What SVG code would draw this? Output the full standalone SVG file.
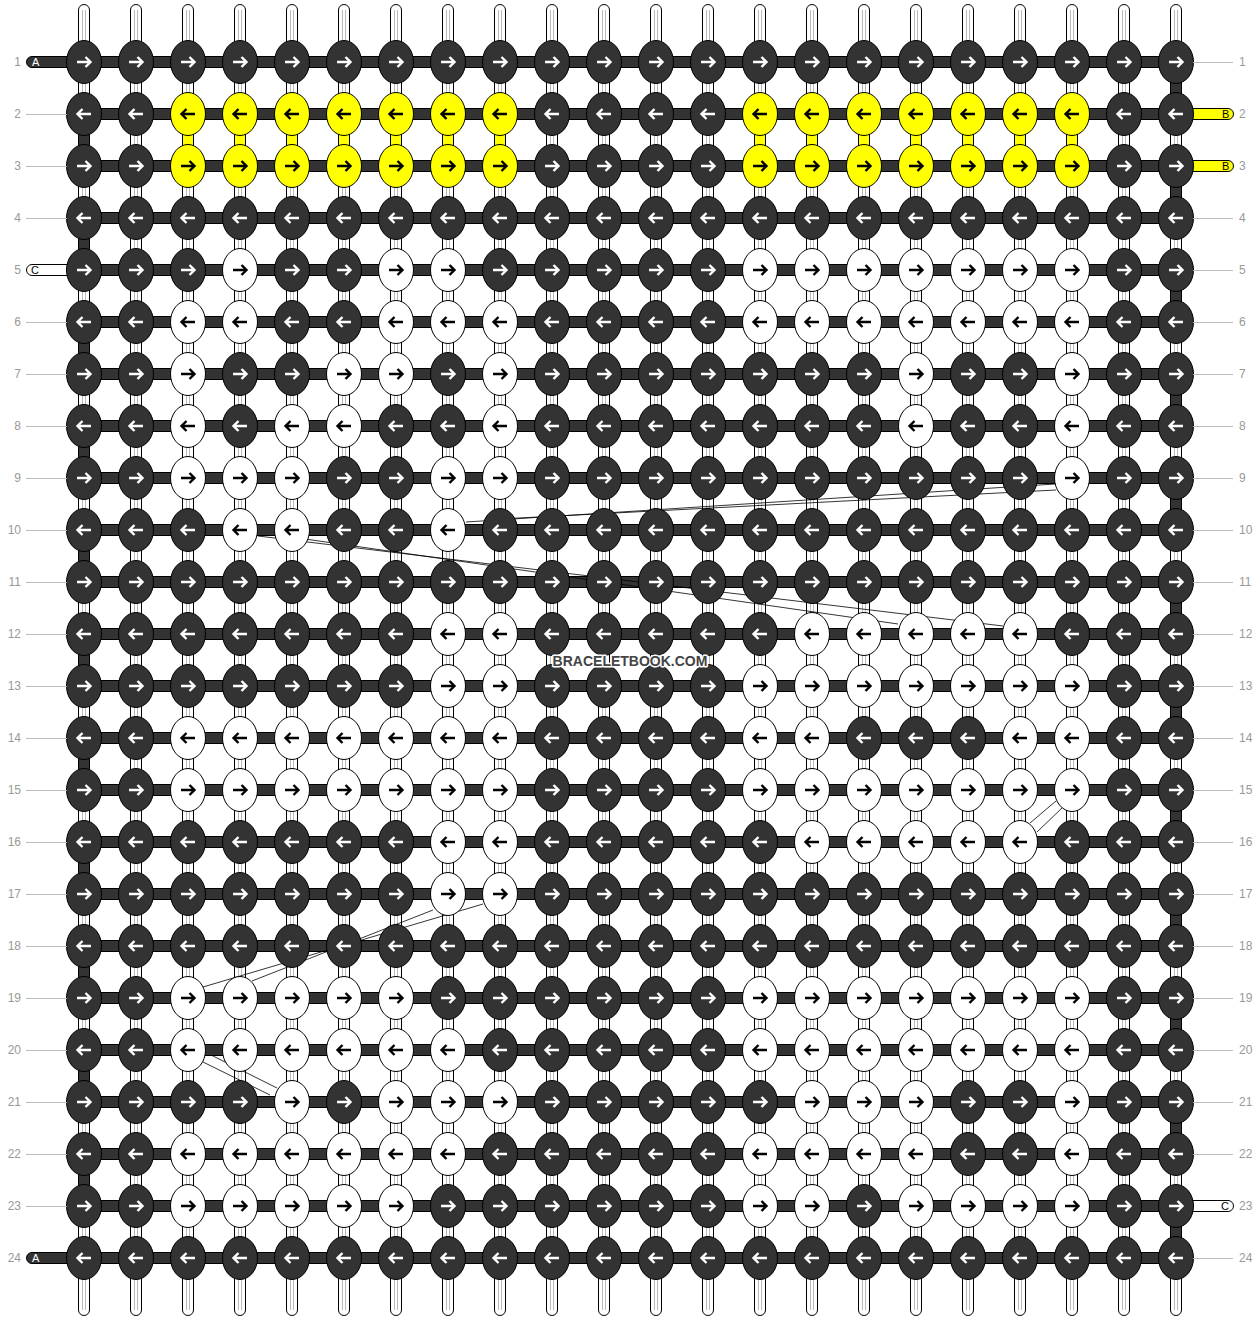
<svg xmlns="http://www.w3.org/2000/svg" width="1260" height="1320" viewBox="0 0 1260 1320">
<style>
.vs{fill:#fff;stroke:#000;stroke-width:1}
.vl{stroke:#bbb;stroke-width:1;fill:none}
.hb{fill:#333;stroke:#000;stroke-width:1}
.ys{fill:#ff0;stroke:#000;stroke-width:1}
.kd{fill:#333;stroke:#000;stroke-width:1}
.kw{fill:#fff;stroke:#000;stroke-width:1}
.ky{fill:#ff0;stroke:#000;stroke-width:1}
.aw{fill:none;stroke:#fff;stroke-width:2.4}
.ab{fill:none;stroke:#000;stroke-width:2.4}
.num{font-family:"Liberation Sans",Arial,sans-serif;font-size:12px;fill:#999}
.ll{stroke:#bbb;stroke-width:1;fill:none}
.dg{stroke:#000;stroke-width:0.8;fill:none}
.lt{font-family:"Liberation Sans",Arial,sans-serif;font-size:11px}
</style>
<defs>
<g id="vstr"><rect class="vs" x="-5.5" y="4.5" width="11" height="1311" rx="5.5"/><path class="vl" d="M-1.5,10V1310M1.5,10V1310"/></g>
<path id="ar" d="M-7,0H6.5M1.5,-5L6.5,0L1.5,5"/>
<path id="al" d="M7,0H-6.5M-1.5,-5L-6.5,0L-1.5,5"/>
<g id="dR"><ellipse class="kd" rx="17.5" ry="21.5"/><use href="#ar" class="aw"/></g>
<g id="dL"><ellipse class="kd" rx="17.5" ry="21.5"/><use href="#al" class="aw"/></g>
<g id="wR"><ellipse class="kw" rx="17.5" ry="21.5"/><use href="#ar" class="ab"/></g>
<g id="wL"><ellipse class="kw" rx="17.5" ry="21.5"/><use href="#al" class="ab"/></g>
<g id="yR"><ellipse class="ky" rx="17.5" ry="21.5"/><use href="#ar" class="ab"/></g>
<g id="yL"><ellipse class="ky" rx="17.5" ry="21.5"/><use href="#al" class="ab"/></g>
</defs>
<rect width="1260" height="1320" fill="#fff"/>
<g id="strings">
<use href="#vstr" x="84"/><use href="#vstr" x="136"/><use href="#vstr" x="188"/><use href="#vstr" x="240"/><use href="#vstr" x="292"/><use href="#vstr" x="344"/><use href="#vstr" x="396"/><use href="#vstr" x="448"/><use href="#vstr" x="500"/><use href="#vstr" x="552"/><use href="#vstr" x="604"/><use href="#vstr" x="656"/><use href="#vstr" x="708"/><use href="#vstr" x="760"/><use href="#vstr" x="812"/><use href="#vstr" x="864"/><use href="#vstr" x="916"/><use href="#vstr" x="968"/><use href="#vstr" x="1020"/><use href="#vstr" x="1072"/><use href="#vstr" x="1124"/><use href="#vstr" x="1176"/>
</g>
<g id="turns">
<rect class="hb" x="78.5" y="114" width="11" height="52"/><rect class="hb" x="78.5" y="218" width="11" height="52"/><rect class="hb" x="78.5" y="322" width="11" height="52"/><rect class="hb" x="78.5" y="426" width="11" height="52"/><rect class="hb" x="78.5" y="530" width="11" height="52"/><rect class="hb" x="78.5" y="634" width="11" height="52"/><rect class="hb" x="78.5" y="738" width="11" height="52"/><rect class="hb" x="78.5" y="842" width="11" height="52"/><rect class="hb" x="78.5" y="946" width="11" height="52"/><rect class="hb" x="78.5" y="1050" width="11" height="52"/><rect class="hb" x="78.5" y="1154" width="11" height="52"/>
<rect class="hb" x="1170.5" y="62" width="11" height="52"/><rect class="hb" x="1170.5" y="166" width="11" height="52"/><rect class="hb" x="1170.5" y="270" width="11" height="52"/><rect class="hb" x="1170.5" y="374" width="11" height="52"/><rect class="hb" x="1170.5" y="478" width="11" height="52"/><rect class="hb" x="1170.5" y="582" width="11" height="52"/><rect class="hb" x="1170.5" y="686" width="11" height="52"/><rect class="hb" x="1170.5" y="790" width="11" height="52"/><rect class="hb" x="1170.5" y="894" width="11" height="52"/><rect class="hb" x="1170.5" y="998" width="11" height="52"/><rect class="hb" x="1170.5" y="1102" width="11" height="52"/><rect class="hb" x="1170.5" y="1206" width="11" height="52"/>
<rect class="ys" x="182.5" y="114" width="11" height="52"/><rect class="ys" x="234.5" y="114" width="11" height="52"/><rect class="ys" x="286.5" y="114" width="11" height="52"/><rect class="ys" x="338.5" y="114" width="11" height="52"/><rect class="ys" x="390.5" y="114" width="11" height="52"/><rect class="ys" x="442.5" y="114" width="11" height="52"/><rect class="ys" x="494.5" y="114" width="11" height="52"/>
<rect class="ys" x="754.5" y="114" width="11" height="52"/><rect class="ys" x="806.5" y="114" width="11" height="52"/><rect class="ys" x="858.5" y="114" width="11" height="52"/><rect class="ys" x="910.5" y="114" width="11" height="52"/><rect class="ys" x="962.5" y="114" width="11" height="52"/><rect class="ys" x="1014.5" y="114" width="11" height="52"/><rect class="ys" x="1066.5" y="114" width="11" height="52"/>
</g>
<g id="rows-bars">
<rect class="hb" x="84" y="56.5" width="1092" height="11"/><rect class="hb" x="84" y="108.5" width="1092" height="11"/><rect class="hb" x="84" y="160.5" width="1092" height="11"/><rect class="hb" x="84" y="212.5" width="1092" height="11"/><rect class="hb" x="84" y="264.5" width="1092" height="11"/><rect class="hb" x="84" y="316.5" width="1092" height="11"/><rect class="hb" x="84" y="368.5" width="1092" height="11"/><rect class="hb" x="84" y="420.5" width="1092" height="11"/><rect class="hb" x="84" y="472.5" width="1092" height="11"/><rect class="hb" x="84" y="524.5" width="1092" height="11"/><rect class="hb" x="84" y="576.5" width="1092" height="11"/><rect class="hb" x="84" y="628.5" width="1092" height="11"/><rect class="hb" x="84" y="680.5" width="1092" height="11"/><rect class="hb" x="84" y="732.5" width="1092" height="11"/><rect class="hb" x="84" y="784.5" width="1092" height="11"/><rect class="hb" x="84" y="836.5" width="1092" height="11"/><rect class="hb" x="84" y="888.5" width="1092" height="11"/><rect class="hb" x="84" y="940.5" width="1092" height="11"/><rect class="hb" x="84" y="992.5" width="1092" height="11"/><rect class="hb" x="84" y="1044.5" width="1092" height="11"/><rect class="hb" x="84" y="1096.5" width="1092" height="11"/><rect class="hb" x="84" y="1148.5" width="1092" height="11"/><rect class="hb" x="84" y="1200.5" width="1092" height="11"/><rect class="hb" x="84" y="1252.5" width="1092" height="11"/>
</g>
<g id="ends">
<rect class="hb" x="26.5" y="56.5" width="60" height="11" rx="5.5"/><text class="lt" x="32" y="66" fill="#fff">A</text>
<rect class="hb" x="26.5" y="1252.5" width="60" height="11" rx="5.5"/><text class="lt" x="32" y="1262" fill="#fff">A</text>
<rect class="vs" x="26.5" y="264.5" width="60" height="11" rx="5.5"/><text class="lt" x="31" y="274" fill="#000">C</text>
<rect class="ys" x="1173.5" y="108.5" width="60" height="11" rx="5.5"/><text class="lt" x="1222" y="118" fill="#000">B</text>
<rect class="ys" x="1173.5" y="160.5" width="60" height="11" rx="5.5"/><text class="lt" x="1222" y="170" fill="#000">B</text>
<rect class="vs" x="1173.5" y="1200.5" width="60" height="11" rx="5.5"/><text class="lt" x="1221" y="1210" fill="#000">C</text>
</g>
<g id="connectors">
<path class="dg" d="M466,522L1055,484M500,519L1056,490"/>
<path class="dg" d="M258,536L1003,626M305,539L898,624"/>
<path class="dg" d="M203,987L483,904M252,981L433,910"/>
<path class="dg" d="M203,1062L270,1095M211,1055L277,1088"/>
<path class="dg" d="M1030,823L1056,801M1037,832L1062,808"/>
</g>
<g id="knots">
<g id="row1" transform="translate(0,62)"><use href="#dR" x="84"/><use href="#dR" x="136"/><use href="#dR" x="188"/><use href="#dR" x="240"/><use href="#dR" x="292"/><use href="#dR" x="344"/><use href="#dR" x="396"/><use href="#dR" x="448"/><use href="#dR" x="500"/><use href="#dR" x="552"/><use href="#dR" x="604"/><use href="#dR" x="656"/><use href="#dR" x="708"/><use href="#dR" x="760"/><use href="#dR" x="812"/><use href="#dR" x="864"/><use href="#dR" x="916"/><use href="#dR" x="968"/><use href="#dR" x="1020"/><use href="#dR" x="1072"/><use href="#dR" x="1124"/><use href="#dR" x="1176"/></g>
<g id="row2" transform="translate(0,114)"><use href="#dL" x="84"/><use href="#dL" x="136"/><use href="#yL" x="188"/><use href="#yL" x="240"/><use href="#yL" x="292"/><use href="#yL" x="344"/><use href="#yL" x="396"/><use href="#yL" x="448"/><use href="#yL" x="500"/><use href="#dL" x="552"/><use href="#dL" x="604"/><use href="#dL" x="656"/><use href="#dL" x="708"/><use href="#yL" x="760"/><use href="#yL" x="812"/><use href="#yL" x="864"/><use href="#yL" x="916"/><use href="#yL" x="968"/><use href="#yL" x="1020"/><use href="#yL" x="1072"/><use href="#dL" x="1124"/><use href="#dL" x="1176"/></g>
<g id="row3" transform="translate(0,166)"><use href="#dR" x="84"/><use href="#dR" x="136"/><use href="#yR" x="188"/><use href="#yR" x="240"/><use href="#yR" x="292"/><use href="#yR" x="344"/><use href="#yR" x="396"/><use href="#yR" x="448"/><use href="#yR" x="500"/><use href="#dR" x="552"/><use href="#dR" x="604"/><use href="#dR" x="656"/><use href="#dR" x="708"/><use href="#yR" x="760"/><use href="#yR" x="812"/><use href="#yR" x="864"/><use href="#yR" x="916"/><use href="#yR" x="968"/><use href="#yR" x="1020"/><use href="#yR" x="1072"/><use href="#dR" x="1124"/><use href="#dR" x="1176"/></g>
<g id="row4" transform="translate(0,218)"><use href="#dL" x="84"/><use href="#dL" x="136"/><use href="#dL" x="188"/><use href="#dL" x="240"/><use href="#dL" x="292"/><use href="#dL" x="344"/><use href="#dL" x="396"/><use href="#dL" x="448"/><use href="#dL" x="500"/><use href="#dL" x="552"/><use href="#dL" x="604"/><use href="#dL" x="656"/><use href="#dL" x="708"/><use href="#dL" x="760"/><use href="#dL" x="812"/><use href="#dL" x="864"/><use href="#dL" x="916"/><use href="#dL" x="968"/><use href="#dL" x="1020"/><use href="#dL" x="1072"/><use href="#dL" x="1124"/><use href="#dL" x="1176"/></g>
<g id="row5" transform="translate(0,270)"><use href="#dR" x="84"/><use href="#dR" x="136"/><use href="#dR" x="188"/><use href="#wR" x="240"/><use href="#dR" x="292"/><use href="#dR" x="344"/><use href="#wR" x="396"/><use href="#wR" x="448"/><use href="#dR" x="500"/><use href="#dR" x="552"/><use href="#dR" x="604"/><use href="#dR" x="656"/><use href="#dR" x="708"/><use href="#wR" x="760"/><use href="#wR" x="812"/><use href="#wR" x="864"/><use href="#wR" x="916"/><use href="#wR" x="968"/><use href="#wR" x="1020"/><use href="#wR" x="1072"/><use href="#dR" x="1124"/><use href="#dR" x="1176"/></g>
<g id="row6" transform="translate(0,322)"><use href="#dL" x="84"/><use href="#dL" x="136"/><use href="#wL" x="188"/><use href="#wL" x="240"/><use href="#dL" x="292"/><use href="#dL" x="344"/><use href="#wL" x="396"/><use href="#wL" x="448"/><use href="#wL" x="500"/><use href="#dL" x="552"/><use href="#dL" x="604"/><use href="#dL" x="656"/><use href="#dL" x="708"/><use href="#wL" x="760"/><use href="#wL" x="812"/><use href="#wL" x="864"/><use href="#wL" x="916"/><use href="#wL" x="968"/><use href="#wL" x="1020"/><use href="#wL" x="1072"/><use href="#dL" x="1124"/><use href="#dL" x="1176"/></g>
<g id="row7" transform="translate(0,374)"><use href="#dR" x="84"/><use href="#dR" x="136"/><use href="#wR" x="188"/><use href="#dR" x="240"/><use href="#dR" x="292"/><use href="#wR" x="344"/><use href="#wR" x="396"/><use href="#dR" x="448"/><use href="#wR" x="500"/><use href="#dR" x="552"/><use href="#dR" x="604"/><use href="#dR" x="656"/><use href="#dR" x="708"/><use href="#dR" x="760"/><use href="#dR" x="812"/><use href="#dR" x="864"/><use href="#wR" x="916"/><use href="#dR" x="968"/><use href="#dR" x="1020"/><use href="#wR" x="1072"/><use href="#dR" x="1124"/><use href="#dR" x="1176"/></g>
<g id="row8" transform="translate(0,426)"><use href="#dL" x="84"/><use href="#dL" x="136"/><use href="#wL" x="188"/><use href="#dL" x="240"/><use href="#wL" x="292"/><use href="#wL" x="344"/><use href="#dL" x="396"/><use href="#dL" x="448"/><use href="#wL" x="500"/><use href="#dL" x="552"/><use href="#dL" x="604"/><use href="#dL" x="656"/><use href="#dL" x="708"/><use href="#dL" x="760"/><use href="#dL" x="812"/><use href="#dL" x="864"/><use href="#wL" x="916"/><use href="#dL" x="968"/><use href="#dL" x="1020"/><use href="#wL" x="1072"/><use href="#dL" x="1124"/><use href="#dL" x="1176"/></g>
<g id="row9" transform="translate(0,478)"><use href="#dR" x="84"/><use href="#dR" x="136"/><use href="#wR" x="188"/><use href="#wR" x="240"/><use href="#wR" x="292"/><use href="#dR" x="344"/><use href="#dR" x="396"/><use href="#wR" x="448"/><use href="#wR" x="500"/><use href="#dR" x="552"/><use href="#dR" x="604"/><use href="#dR" x="656"/><use href="#dR" x="708"/><use href="#dR" x="760"/><use href="#dR" x="812"/><use href="#dR" x="864"/><use href="#dR" x="916"/><use href="#dR" x="968"/><use href="#dR" x="1020"/><use href="#wR" x="1072"/><use href="#dR" x="1124"/><use href="#dR" x="1176"/></g>
<g id="row10" transform="translate(0,530)"><use href="#dL" x="84"/><use href="#dL" x="136"/><use href="#dL" x="188"/><use href="#wL" x="240"/><use href="#wL" x="292"/><use href="#dL" x="344"/><use href="#dL" x="396"/><use href="#wL" x="448"/><use href="#dL" x="500"/><use href="#dL" x="552"/><use href="#dL" x="604"/><use href="#dL" x="656"/><use href="#dL" x="708"/><use href="#dL" x="760"/><use href="#dL" x="812"/><use href="#dL" x="864"/><use href="#dL" x="916"/><use href="#dL" x="968"/><use href="#dL" x="1020"/><use href="#dL" x="1072"/><use href="#dL" x="1124"/><use href="#dL" x="1176"/></g>
<g id="row11" transform="translate(0,582)"><use href="#dR" x="84"/><use href="#dR" x="136"/><use href="#dR" x="188"/><use href="#dR" x="240"/><use href="#dR" x="292"/><use href="#dR" x="344"/><use href="#dR" x="396"/><use href="#dR" x="448"/><use href="#dR" x="500"/><use href="#dR" x="552"/><use href="#dR" x="604"/><use href="#dR" x="656"/><use href="#dR" x="708"/><use href="#dR" x="760"/><use href="#dR" x="812"/><use href="#dR" x="864"/><use href="#dR" x="916"/><use href="#dR" x="968"/><use href="#dR" x="1020"/><use href="#dR" x="1072"/><use href="#dR" x="1124"/><use href="#dR" x="1176"/></g>
<g id="row12" transform="translate(0,634)"><use href="#dL" x="84"/><use href="#dL" x="136"/><use href="#dL" x="188"/><use href="#dL" x="240"/><use href="#dL" x="292"/><use href="#dL" x="344"/><use href="#dL" x="396"/><use href="#wL" x="448"/><use href="#wL" x="500"/><use href="#dL" x="552"/><use href="#dL" x="604"/><use href="#dL" x="656"/><use href="#dL" x="708"/><use href="#dL" x="760"/><use href="#wL" x="812"/><use href="#wL" x="864"/><use href="#wL" x="916"/><use href="#wL" x="968"/><use href="#wL" x="1020"/><use href="#dL" x="1072"/><use href="#dL" x="1124"/><use href="#dL" x="1176"/></g>
<g id="row13" transform="translate(0,686)"><use href="#dR" x="84"/><use href="#dR" x="136"/><use href="#dR" x="188"/><use href="#dR" x="240"/><use href="#dR" x="292"/><use href="#dR" x="344"/><use href="#dR" x="396"/><use href="#wR" x="448"/><use href="#wR" x="500"/><use href="#dR" x="552"/><use href="#dR" x="604"/><use href="#dR" x="656"/><use href="#dR" x="708"/><use href="#wR" x="760"/><use href="#wR" x="812"/><use href="#wR" x="864"/><use href="#wR" x="916"/><use href="#wR" x="968"/><use href="#wR" x="1020"/><use href="#wR" x="1072"/><use href="#dR" x="1124"/><use href="#dR" x="1176"/></g>
<g id="row14" transform="translate(0,738)"><use href="#dL" x="84"/><use href="#dL" x="136"/><use href="#wL" x="188"/><use href="#wL" x="240"/><use href="#wL" x="292"/><use href="#wL" x="344"/><use href="#wL" x="396"/><use href="#wL" x="448"/><use href="#wL" x="500"/><use href="#dL" x="552"/><use href="#dL" x="604"/><use href="#dL" x="656"/><use href="#dL" x="708"/><use href="#wL" x="760"/><use href="#wL" x="812"/><use href="#dL" x="864"/><use href="#dL" x="916"/><use href="#dL" x="968"/><use href="#wL" x="1020"/><use href="#wL" x="1072"/><use href="#dL" x="1124"/><use href="#dL" x="1176"/></g>
<g id="row15" transform="translate(0,790)"><use href="#dR" x="84"/><use href="#dR" x="136"/><use href="#wR" x="188"/><use href="#wR" x="240"/><use href="#wR" x="292"/><use href="#wR" x="344"/><use href="#wR" x="396"/><use href="#wR" x="448"/><use href="#wR" x="500"/><use href="#dR" x="552"/><use href="#dR" x="604"/><use href="#dR" x="656"/><use href="#dR" x="708"/><use href="#wR" x="760"/><use href="#wR" x="812"/><use href="#wR" x="864"/><use href="#wR" x="916"/><use href="#wR" x="968"/><use href="#wR" x="1020"/><use href="#wR" x="1072"/><use href="#dR" x="1124"/><use href="#dR" x="1176"/></g>
<g id="row16" transform="translate(0,842)"><use href="#dL" x="84"/><use href="#dL" x="136"/><use href="#dL" x="188"/><use href="#dL" x="240"/><use href="#dL" x="292"/><use href="#dL" x="344"/><use href="#dL" x="396"/><use href="#wL" x="448"/><use href="#wL" x="500"/><use href="#dL" x="552"/><use href="#dL" x="604"/><use href="#dL" x="656"/><use href="#dL" x="708"/><use href="#dL" x="760"/><use href="#wL" x="812"/><use href="#wL" x="864"/><use href="#wL" x="916"/><use href="#wL" x="968"/><use href="#wL" x="1020"/><use href="#dL" x="1072"/><use href="#dL" x="1124"/><use href="#dL" x="1176"/></g>
<g id="row17" transform="translate(0,894)"><use href="#dR" x="84"/><use href="#dR" x="136"/><use href="#dR" x="188"/><use href="#dR" x="240"/><use href="#dR" x="292"/><use href="#dR" x="344"/><use href="#dR" x="396"/><use href="#wR" x="448"/><use href="#wR" x="500"/><use href="#dR" x="552"/><use href="#dR" x="604"/><use href="#dR" x="656"/><use href="#dR" x="708"/><use href="#dR" x="760"/><use href="#dR" x="812"/><use href="#dR" x="864"/><use href="#dR" x="916"/><use href="#dR" x="968"/><use href="#dR" x="1020"/><use href="#dR" x="1072"/><use href="#dR" x="1124"/><use href="#dR" x="1176"/></g>
<g id="row18" transform="translate(0,946)"><use href="#dL" x="84"/><use href="#dL" x="136"/><use href="#dL" x="188"/><use href="#dL" x="240"/><use href="#dL" x="292"/><use href="#dL" x="344"/><use href="#dL" x="396"/><use href="#dL" x="448"/><use href="#dL" x="500"/><use href="#dL" x="552"/><use href="#dL" x="604"/><use href="#dL" x="656"/><use href="#dL" x="708"/><use href="#dL" x="760"/><use href="#dL" x="812"/><use href="#dL" x="864"/><use href="#dL" x="916"/><use href="#dL" x="968"/><use href="#dL" x="1020"/><use href="#dL" x="1072"/><use href="#dL" x="1124"/><use href="#dL" x="1176"/></g>
<g id="row19" transform="translate(0,998)"><use href="#dR" x="84"/><use href="#dR" x="136"/><use href="#wR" x="188"/><use href="#wR" x="240"/><use href="#wR" x="292"/><use href="#wR" x="344"/><use href="#wR" x="396"/><use href="#dR" x="448"/><use href="#dR" x="500"/><use href="#dR" x="552"/><use href="#dR" x="604"/><use href="#dR" x="656"/><use href="#dR" x="708"/><use href="#wR" x="760"/><use href="#wR" x="812"/><use href="#wR" x="864"/><use href="#wR" x="916"/><use href="#wR" x="968"/><use href="#wR" x="1020"/><use href="#wR" x="1072"/><use href="#dR" x="1124"/><use href="#dR" x="1176"/></g>
<g id="row20" transform="translate(0,1050)"><use href="#dL" x="84"/><use href="#dL" x="136"/><use href="#wL" x="188"/><use href="#wL" x="240"/><use href="#wL" x="292"/><use href="#wL" x="344"/><use href="#wL" x="396"/><use href="#wL" x="448"/><use href="#dL" x="500"/><use href="#dL" x="552"/><use href="#dL" x="604"/><use href="#dL" x="656"/><use href="#dL" x="708"/><use href="#wL" x="760"/><use href="#wL" x="812"/><use href="#wL" x="864"/><use href="#wL" x="916"/><use href="#wL" x="968"/><use href="#wL" x="1020"/><use href="#wL" x="1072"/><use href="#dL" x="1124"/><use href="#dL" x="1176"/></g>
<g id="row21" transform="translate(0,1102)"><use href="#dR" x="84"/><use href="#dR" x="136"/><use href="#dR" x="188"/><use href="#dR" x="240"/><use href="#wR" x="292"/><use href="#dR" x="344"/><use href="#wR" x="396"/><use href="#wR" x="448"/><use href="#wR" x="500"/><use href="#dR" x="552"/><use href="#dR" x="604"/><use href="#dR" x="656"/><use href="#dR" x="708"/><use href="#dR" x="760"/><use href="#wR" x="812"/><use href="#wR" x="864"/><use href="#wR" x="916"/><use href="#dR" x="968"/><use href="#dR" x="1020"/><use href="#wR" x="1072"/><use href="#dR" x="1124"/><use href="#dR" x="1176"/></g>
<g id="row22" transform="translate(0,1154)"><use href="#dL" x="84"/><use href="#dL" x="136"/><use href="#wL" x="188"/><use href="#wL" x="240"/><use href="#wL" x="292"/><use href="#wL" x="344"/><use href="#wL" x="396"/><use href="#wL" x="448"/><use href="#dL" x="500"/><use href="#dL" x="552"/><use href="#dL" x="604"/><use href="#dL" x="656"/><use href="#dL" x="708"/><use href="#wL" x="760"/><use href="#wL" x="812"/><use href="#wL" x="864"/><use href="#wL" x="916"/><use href="#dL" x="968"/><use href="#dL" x="1020"/><use href="#wL" x="1072"/><use href="#dL" x="1124"/><use href="#dL" x="1176"/></g>
<g id="row23" transform="translate(0,1206)"><use href="#dR" x="84"/><use href="#dR" x="136"/><use href="#wR" x="188"/><use href="#wR" x="240"/><use href="#wR" x="292"/><use href="#wR" x="344"/><use href="#wR" x="396"/><use href="#dR" x="448"/><use href="#dR" x="500"/><use href="#dR" x="552"/><use href="#dR" x="604"/><use href="#dR" x="656"/><use href="#dR" x="708"/><use href="#wR" x="760"/><use href="#wR" x="812"/><use href="#dR" x="864"/><use href="#wR" x="916"/><use href="#wR" x="968"/><use href="#wR" x="1020"/><use href="#wR" x="1072"/><use href="#dR" x="1124"/><use href="#dR" x="1176"/></g>
<g id="row24" transform="translate(0,1258)"><use href="#dL" x="84"/><use href="#dL" x="136"/><use href="#dL" x="188"/><use href="#dL" x="240"/><use href="#dL" x="292"/><use href="#dL" x="344"/><use href="#dL" x="396"/><use href="#dL" x="448"/><use href="#dL" x="500"/><use href="#dL" x="552"/><use href="#dL" x="604"/><use href="#dL" x="656"/><use href="#dL" x="708"/><use href="#dL" x="760"/><use href="#dL" x="812"/><use href="#dL" x="864"/><use href="#dL" x="916"/><use href="#dL" x="968"/><use href="#dL" x="1020"/><use href="#dL" x="1072"/><use href="#dL" x="1124"/><use href="#dL" x="1176"/></g>
</g>
<g id="labels">
<path class="ll" d="M26,114.5H67M26,166.5H67M26,218.5H67M26,322.5H67M26,374.5H67M26,426.5H67M26,478.5H67M26,530.5H67M26,582.5H67M26,634.5H67M26,686.5H67M26,738.5H67M26,790.5H67M26,842.5H67M26,894.5H67M26,946.5H67M26,998.5H67M26,1050.5H67M26,1102.5H67M26,1154.5H67M26,1206.5H67"/>
<path class="ll" d="M1193,62.5H1233M1193,218.5H1233M1193,270.5H1233M1193,322.5H1233M1193,374.5H1233M1193,426.5H1233M1193,478.5H1233M1193,530.5H1233M1193,582.5H1233M1193,634.5H1233M1193,686.5H1233M1193,738.5H1233M1193,790.5H1233M1193,842.5H1233M1193,894.5H1233M1193,946.5H1233M1193,998.5H1233M1193,1050.5H1233M1193,1102.5H1233M1193,1154.5H1233M1193,1258.5H1233"/>
<g class="num" text-anchor="end">
<text x="21" y="66">1</text><text x="21" y="118">2</text><text x="21" y="170">3</text><text x="21" y="222">4</text><text x="21" y="274">5</text><text x="21" y="326">6</text><text x="21" y="378">7</text><text x="21" y="430">8</text><text x="21" y="482">9</text><text x="21" y="534">10</text><text x="21" y="586">11</text><text x="21" y="638">12</text><text x="21" y="690">13</text><text x="21" y="742">14</text><text x="21" y="794">15</text><text x="21" y="846">16</text><text x="21" y="898">17</text><text x="21" y="950">18</text><text x="21" y="1002">19</text><text x="21" y="1054">20</text><text x="21" y="1106">21</text><text x="21" y="1158">22</text><text x="21" y="1210">23</text><text x="21" y="1262">24</text>
</g>
<g class="num">
<text x="1239" y="66">1</text><text x="1239" y="118">2</text><text x="1239" y="170">3</text><text x="1239" y="222">4</text><text x="1239" y="274">5</text><text x="1239" y="326">6</text><text x="1239" y="378">7</text><text x="1239" y="430">8</text><text x="1239" y="482">9</text><text x="1239" y="534">10</text><text x="1239" y="586">11</text><text x="1239" y="638">12</text><text x="1239" y="690">13</text><text x="1239" y="742">14</text><text x="1239" y="794">15</text><text x="1239" y="846">16</text><text x="1239" y="898">17</text><text x="1239" y="950">18</text><text x="1239" y="1002">19</text><text x="1239" y="1054">20</text><text x="1239" y="1106">21</text><text x="1239" y="1158">22</text><text x="1239" y="1210">23</text><text x="1239" y="1262">24</text>
</g>
</g>
<text id="watermark" x="630" y="666" text-anchor="middle" style="font-family:'Liberation Sans',Arial,sans-serif;font-weight:bold;font-size:14px;fill:#444;stroke:#fff;stroke-width:3;paint-order:stroke;stroke-linejoin:round">BRACELETBOOK.COM</text>
</svg>
